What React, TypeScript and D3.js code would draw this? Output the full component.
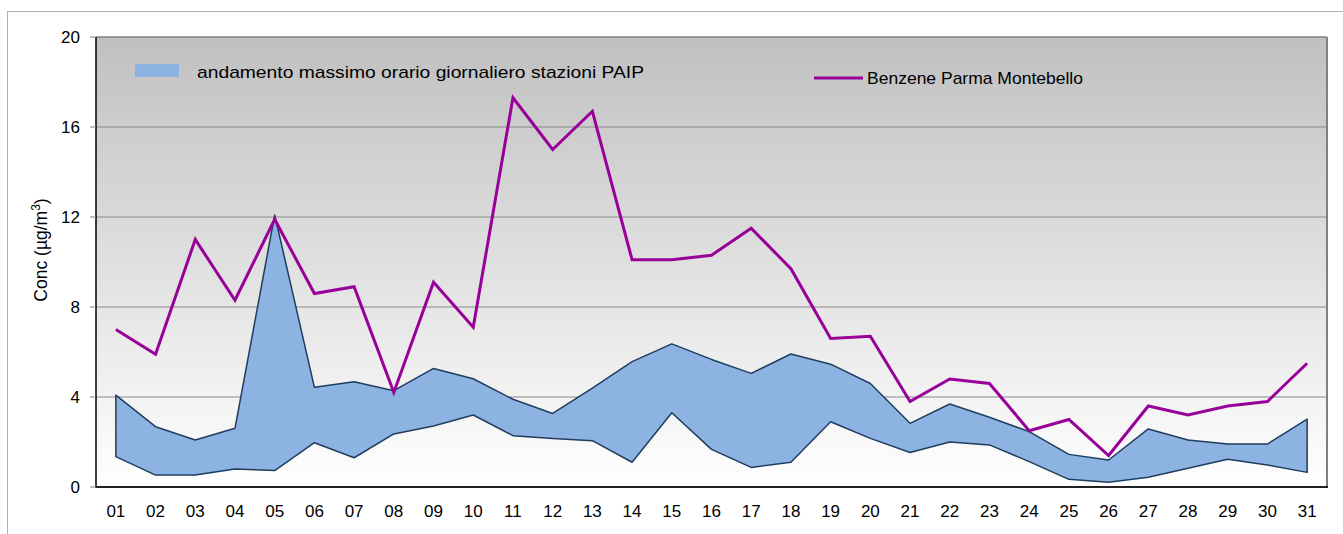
import React from 'react';
import * as d3 from 'd3';

// days of the month
const days = ['01', '02', '03', '04', '05', '06', '07', '08', '09', '10', '11', '12', '13', '14', '15', '16',
  '17', '18', '19', '20', '21', '22', '23', '24', '25', '26', '27', '28', '29', '30', '31'];

// PAIP stations band: daily min / max of hourly maxima
const paipMin = [1.35, 0.53, 0.53, 0.8, 0.73, 1.97, 1.3, 2.36, 2.71, 3.2, 2.28, 2.16, 2.06, 1.1, 3.3, 1.67,
  0.87, 1.1, 2.9, 2.16, 1.53, 2.0, 1.87, 1.13, 0.34, 0.21, 0.43, 0.83, 1.23, 0.98, 0.65];
const paipMax = [4.08, 2.68, 2.09, 2.61, 12.09, 4.43, 4.68, 4.28, 5.27, 4.81, 3.9, 3.27, 4.39, 5.57, 6.36, 5.67,
  5.05, 5.91, 5.46, 4.6, 2.83, 3.69, 3.1, 2.46, 1.45, 1.2, 2.58, 2.09, 1.91, 1.91, 3.02];

// Benzene Parma Montebello
const benzene = [7.0, 5.9, 11.0, 8.3, 11.9, 8.6, 8.9, 4.2, 9.1, 7.1, 17.3, 15.0, 16.7, 10.1, 10.1, 10.3,
  11.5, 9.7, 6.6, 6.7, 3.8, 4.8, 4.6, 2.5, 3.0, 1.4, 3.6, 3.2, 3.6, 3.8, 5.5];

const yTicks = [0, 4, 8, 12, 16, 20];

const W = 1343;
const H = 534;
const left = 96;
const right = 1327;
const top = 37;
const bottom = 487;
const font = 'Liberation Sans, Arial, sans-serif';

export default function App() {
  const x = d3.scaleBand<string>().domain(days).range([left, right]).padding(0);
  const y = d3.scaleLinear().domain([0, 20]).range([bottom, top]);
  const cx = (d: string) => (x(d) as number) + x.bandwidth() / 2;

  const band = d3
    .area<number>()
    .x((_, i) => cx(days[i]))
    .y0((_, i) => y(paipMin[i]))
    .y1((_, i) => y(paipMax[i]));

  const line = d3
    .line<number>()
    .x((_, i) => cx(days[i]))
    .y((d) => y(d));

  return (
    <svg width={W} height={H} style={{ position: 'absolute', left: 0, top: 0, background: '#fff' }}>
      <defs>
        <linearGradient id="bg" x1="0" y1="0" x2="0" y2="1">
          <stop offset="0" stopColor="#c0c0c0" />
          <stop offset="1" stopColor="#ffffff" />
        </linearGradient>
      </defs>

      {/* outer chart frame */}
      <rect x={7.5} y={11.5} width={W} height={H} fill="none" stroke="#b0b0b0" />

      {/* plot area */}
      <rect x={left} y={top} width={right - left} height={bottom - top} fill="url(#bg)" />

      {/* grid */}
      {yTicks.filter((t) => t > 0 && t < 20).map((t) => (
        <line key={t} x1={left} x2={right} y1={y(t)} y2={y(t)} stroke="#8a8a8a" strokeWidth={1} />
      ))}

      {/* frame of plot */}
      <line x1={left} x2={right} y1={top} y2={top} stroke="#808080" strokeWidth={1.5} />
      <line x1={right} x2={right} y1={top} y2={bottom} stroke="#808080" strokeWidth={2} />

      {/* PAIP band */}
      <path d={band(paipMax) || ''} fill="#8db3e2" stroke="#1f3d5e" strokeWidth={1.5} strokeLinejoin="round" />

      {/* Benzene line */}
      <path d={line(benzene) || ''} fill="none" stroke="#990099" strokeWidth={3} />

      {/* axes */}
      <line x1={left} x2={left} y1={top} y2={bottom + 1} stroke="#000" strokeWidth={1.5} />
      <line x1={left} x2={right + 1} y1={bottom} y2={bottom} stroke="#222" strokeWidth={2} />

      {yTicks.map((t) => (
        <g key={t}>
          <line x1={left - 6} x2={left} y1={y(t)} y2={y(t)} stroke="#808080" />
          <text x={80} y={y(t)} dy="0.35em" textAnchor="end" fontFamily={font} fontSize={17} fill="#000">
            {t}
          </text>
        </g>
      ))}

      {days.map((d) => (
        <text key={d} x={cx(d)} y={517} textAnchor="middle" fontFamily={font} fontSize={17} fill="#000">
          {d}
        </text>
      ))}

      <text
        transform={`translate(47, 250) rotate(-90)`}
        textAnchor="middle"
        fontFamily={font}
        fontSize={17.5}
        fill="#000"
      >
        Conc (µg/m<tspan dy={-7} fontSize={12}>3</tspan><tspan dy={7}>)</tspan>
      </text>

      {/* legend */}
      <rect x={135} y={64} width={44} height={13} fill="#8db3e2" />
      <text x={197} y={78} fontFamily={font} fontSize={17} textLength={447} lengthAdjust="spacingAndGlyphs" fill="#000">
        andamento massimo orario giornaliero stazioni PAIP
      </text>
      <line x1={814} x2={863} y1={78} y2={78} stroke="#990099" strokeWidth={3} />
      <text x={867} y={84} fontFamily={font} fontSize={17} textLength={216} lengthAdjust="spacingAndGlyphs" fill="#000">
        Benzene Parma Montebello
      </text>
    </svg>
  );
}
